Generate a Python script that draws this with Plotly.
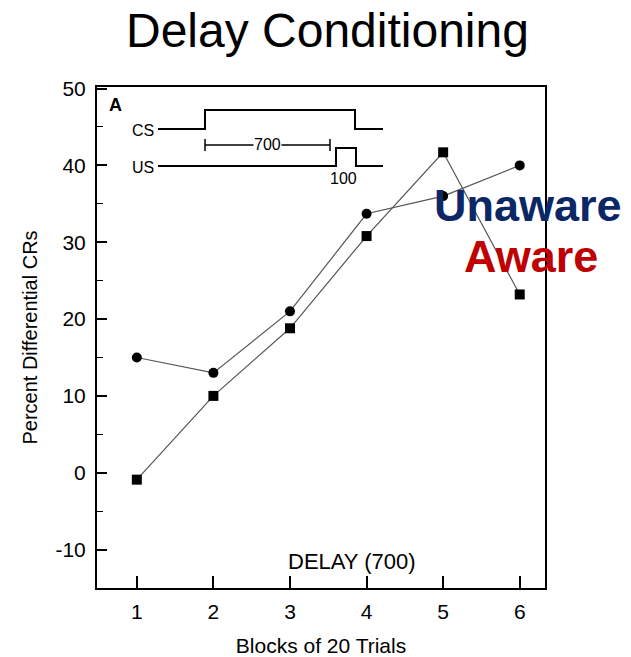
import plotly.graph_objects as go

blocks = [1, 2, 3, 4, 5, 6]
circle_vals = [15.0, 13.0, 21.0, 33.7, 36.0, 40.0]
square_vals = [-0.9, 10.0, 18.8, 30.8, 41.7, 23.2]
y_ticks = [-10, 0, 10, 20, 30, 40, 50]
y_tick_text = ["-10", "0", "10", "20", "30", "40", "50"]

W, H = 631, 657
L, R, T, B = 97, 545, 87, 588

def fx(px):
    return (px - L) / (R - L)

def fy(py):
    return (B - py) / (B - T)

FONT = "Liberation Sans, Arial, Helvetica, sans-serif"

fig = go.Figure()
fig.add_trace(go.Scatter(x=blocks, y=circle_vals, mode="lines+markers",
                         line=dict(color="#555", width=1.2),
                         marker=dict(symbol="circle", size=10, color="black"),
                         showlegend=False))
fig.add_trace(go.Scatter(x=blocks, y=square_vals, mode="lines+markers",
                         line=dict(color="#555", width=1.2),
                         marker=dict(symbol="square", size=10, color="black"),
                         showlegend=False))

shapes = []
def path(pts, w=2):
    d = "M " + " L ".join(f"{fx(a):.4f},{fy(b):.4f}" for a, b in pts)
    shapes.append(dict(type="path", path=d, xref="paper", yref="paper",
                       line=dict(color="black", width=w)))

path([(158, 129), (205, 129), (205, 110), (355, 110), (355, 129), (383, 129)])
path([(158, 166), (336, 166), (336, 148), (356, 148), (356, 166), (383, 166)])
path([(205, 145), (330, 145)], 1.5)
path([(205, 139), (205, 151)], 1.5)
path([(330, 139), (330, 151)], 1.5)

annotations = []

def txt(s, px, py, size, color="black", bold=False, xanchor="center", bg=None):
    a = dict(text=f"<b>{s}</b>" if bold else s, x=fx(px), y=fy(py), xref="paper", yref="paper",
             showarrow=False, font=dict(size=size, color=color, family=FONT),
             xanchor=xanchor, yanchor="middle")
    if bg:
        a["bgcolor"] = bg
        a["borderpad"] = 0
    annotations.append(a)

txt("Delay Conditioning", 327, 30, 48)
txt("A", 115, 105, 18, bold=True)
txt("CS", 156, 130, 16, xanchor="right")
txt("US", 156, 167, 16, xanchor="right")
txt("700", 267, 145, 16, bg="white")
txt("100", 343, 178, 16)
txt("DELAY (700)", 352, 561, 22)
txt("Unaware", 528, 205, 45, color="#0b2766", bold=True)
txt("Aware", 531, 256, 45, color="#c00000", bold=True)

fig.update_layout(
    width=W, height=H,
    margin=dict(l=L, r=W - R, t=T, b=H - B),
    plot_bgcolor="white", paper_bgcolor="white",
    font=dict(family=FONT, color="black"),
    shapes=shapes, annotations=annotations,
    xaxis=dict(range=[0.48, 6.33], tickvals=blocks, ticks="inside", ticklen=12,
               tickwidth=1.5, tickcolor="black", showline=True, linewidth=2,
               linecolor="black", mirror=True, showgrid=False, zeroline=False,
               tickfont=dict(size=21), ticklabelstandoff=4, automargin=False,
               title=dict(text="Blocks of 20 Trials", font=dict(size=21), standoff=17)),
    yaxis=dict(range=[-15, 50.2], tickvals=y_ticks, ticktext=y_tick_text, ticks="inside", ticklen=10,
               tickwidth=1.5, tickcolor="black", showline=True, linewidth=2,
               linecolor="black", mirror=True, showgrid=False, zeroline=False,
               tickfont=dict(size=21), ticklabelstandoff=5, automargin=False,
               minor=dict(dtick=5, tick0=0, ticks="inside", ticklen=6, tickcolor="black", tickwidth=1.2),
               title=dict(text="Percent Differential CRs", font=dict(size=20), standoff=12)),
)

fig.write_html("out.html")
